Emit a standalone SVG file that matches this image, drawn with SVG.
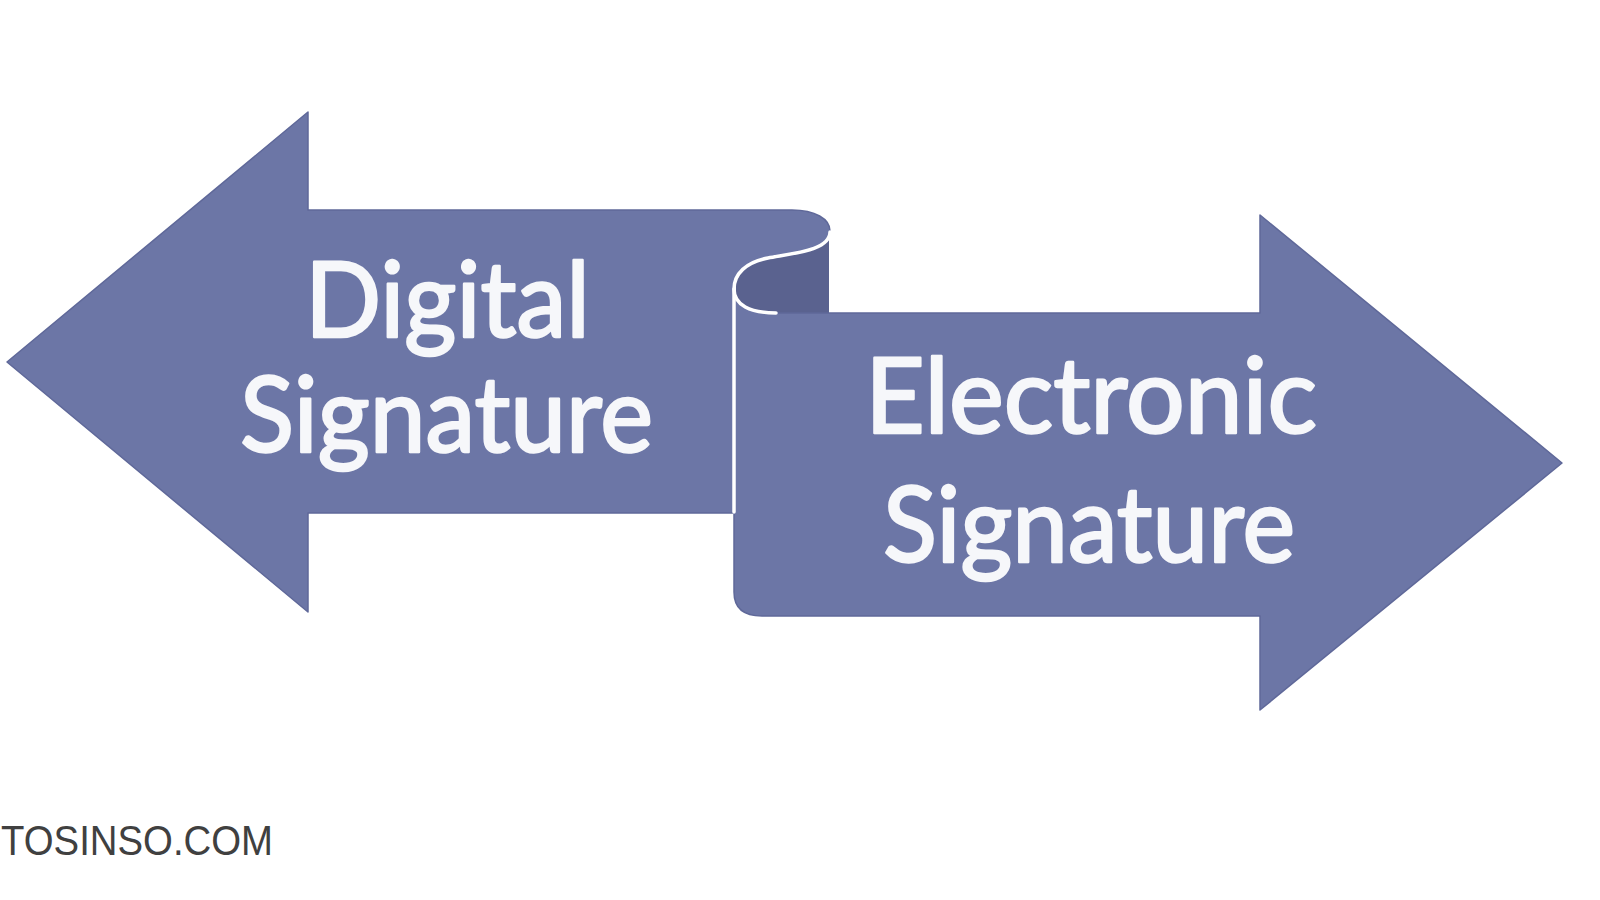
<svg xmlns="http://www.w3.org/2000/svg" width="1600" height="900" viewBox="0 0 1600 900">
  <style>
    .body { fill: #6C76A6; stroke: #5F6899; stroke-width: 1.5; stroke-linejoin: round; }
    .back { fill: #5A628F; }
    .edge { fill: none; stroke: #FFFFFF; stroke-width: 3.5; stroke-linecap: round; }
    .label { font-family: Lato, "Open Sans", "Liberation Sans", sans-serif; font-size: 104px; fill: #F6F7FA; stroke: #F6F7FA; stroke-width: 2.5; stroke-linejoin: round; }
    .mark { font-family: "Liberation Sans", Arial, sans-serif; font-size: 42px; fill: #404040; }
  </style>
  <rect x="0" y="0" width="1600" height="900" fill="#FFFFFF"/>

  <g id="curl-back">
    <rect class="back" x="736" y="236" width="93" height="80"/>
  </g>

  <g id="digital-signature">
    <path class="body" d="M7,362 L308,112 L308,210 L792,210 C815,210 830,219 830,231 C830,250 795,253 768,258 C746,262 734,274 734,289 L734,513 L308,513 L308,612 Z"/>
    <text class="label" x="305" y="337" textLength="285" lengthAdjust="spacingAndGlyphs">Digital</text>
    <text class="label" x="240" y="452" textLength="413" lengthAdjust="spacingAndGlyphs">Signature</text>
  </g>

  <g id="electronic-signature">
    <path class="body" d="M734,289 C734,305 750,313 776,313 L1260,313 L1260,215 L1562,463 L1260,710 L1260,616 L762,616 Q734,616 734,592 Z"/>
    <path class="edge" d="M830,232 C830,250 795,253 768,258 C746,262 734,274 734,289 C734,305 750,313 776,313"/>
    <path class="edge" d="M734,289 L734,512"/>
    <text class="label" x="865" y="433" textLength="452" lengthAdjust="spacingAndGlyphs">Electronic</text>
    <text class="label" x="883" y="562" textLength="412" lengthAdjust="spacingAndGlyphs">Signature</text>
  </g>

  <g id="connectors"></g>

  <text class="mark" x="1" y="855" textLength="272" lengthAdjust="spacingAndGlyphs">TOSINSO.COM</text>
</svg>
